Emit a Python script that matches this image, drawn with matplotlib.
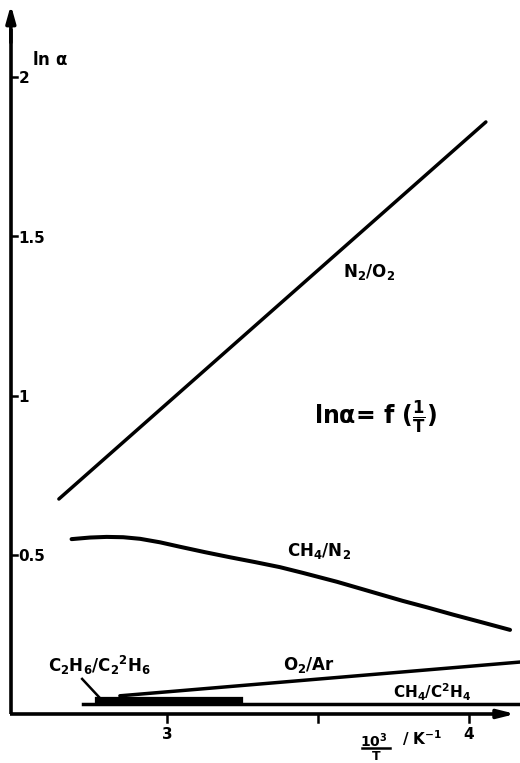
import numpy as np
import matplotlib
matplotlib.use("Agg")
import matplotlib.pyplot as plt

plt.rcParams['font.family'] = ['DejaVu Sans']
plt.rcParams['mathtext.default'] = 'regular'

# values (x = 10^3/T in K^-1, y = ln alpha)
n2o2_x = [2.642, 4.056]
n2o2_y = [0.675, 1.859]

ch4n2_x = [2.684, 2.745, 2.800, 2.855, 2.911, 2.977, 3.043, 3.126, 3.209, 3.291,
           3.374, 3.450, 3.563, 3.672, 3.781, 3.864, 3.947, 4.046, 4.136]
ch4n2_y = [0.549, 0.554, 0.556, 0.555, 0.550, 0.539, 0.525, 0.508, 0.492, 0.477,
           0.461, 0.443, 0.415, 0.385, 0.355, 0.334, 0.312, 0.287, 0.264]

o2ar_x = [2.844, 4.169]
o2ar_y = [0.057, 0.163]

c2h6_x = [2.772, 3.242]
c2h6_y = [0.044, 0.044]

ch4c2h4_x = [2.722, 4.169]
ch4c2h4_y = [0.031, 0.031]

yticks = [0.5, 1, 1.5, 2]
ytick_labels = ['0.5', '1', '1.5', '2']
xticks = [3, 3.5, 4]
xtick_labels = ['3', '', '4']

fig = plt.figure(figsize=(5.2, 7.63), dpi=100)
ax = fig.add_axes([0, 0, 1, 1])
ax.set_xlim(2.447, 4.169)
ax.set_ylim(-0.154, 2.242)
ax.axis('off')

x0 = 2.483  # position of the y axis
lw = 2.5
alw = 2.6

# axes with arrows
ax.plot([x0, x0], [0, 2.15], color='k', lw=alw, solid_capstyle='butt')
ax.annotate('', xy=(x0, 2.235), xytext=(x0, 2.1), annotation_clip=False,
            arrowprops=dict(arrowstyle='-|>,head_width=0.28,head_length=1.0', lw=alw, color='k'))
ax.plot([x0 - 0.004, 4.12], [0, 0], color='k', lw=alw, solid_capstyle='butt')
ax.annotate('', xy=(4.163, 0), xytext=(4.08, 0), annotation_clip=False,
            arrowprops=dict(arrowstyle='-|>,head_width=0.25,head_length=1.0', lw=alw, color='k'))

# ticks
for yt, lab in zip(yticks, ytick_labels):
    ax.plot([x0, x0 + 0.02], [yt, yt], color='k', lw=1.8)
    ax.text(2.509, yt - 0.006, lab, fontsize=11, fontweight='bold', va='center', ha='left')
for xt, lab in zip(xticks, xtick_labels):
    ax.plot([xt, xt], [0, -0.025], color='k', lw=1.8)
    if lab:
        ax.text(xt, -0.064, lab, fontsize=11, fontweight='bold', ha='center', va='center')

# curves
ax.plot(n2o2_x, n2o2_y, color='k', lw=lw, solid_capstyle='round')
ax.plot(ch4n2_x, ch4n2_y, color='k', lw=lw + 0.4, solid_capstyle='round',
        solid_joinstyle='round')
ax.plot(o2ar_x, o2ar_y, color='k', lw=lw, solid_capstyle='round')
ax.plot(ch4c2h4_x, ch4c2h4_y, color='k', lw=lw)
ax.plot(c2h6_x, c2h6_y, color='k', lw=4.5)
ax.plot([2.719, 2.775], [0.110, 0.053], color='k', lw=1.8)

# labels
kw = dict(fontsize=12, fontweight='bold', ha='center', va='center')
ax.text(2.613, 2.055, r'ln $\alpha$', fontsize=12, fontweight='bold', ha='center', va='center')
ax.text(3.669, 1.388, r'N$_2$/O$_2$', **kw)
ax.text(3.503, 0.512, r'CH$_4$/N$_2$', **kw)
ax.text(3.470, 0.154, r'O$_2$/Ar', **kw)
ax.text(2.778, 0.151, r'C$_2$H$_6$/C$_2$$^2$H$_6$', **kw)
ax.text(3.877, 0.069, r'CH$_4$/C$^2$H$_4$', fontsize=11, fontweight='bold',
        ha='center', va='center')
ax.text(3.69, 0.93, r'ln$\alpha$= f $(\frac{1}{T})$', fontsize=17, fontweight='bold',
        ha='center', va='center')

# x axis label drawn as a hand written fraction
ax.text(3.685, -0.083, r'10$^3$', fontsize=10, fontweight='bold', ha='center', va='center')
ax.plot([3.646, 3.738], [-0.107, -0.107], color='k', lw=1.8)
ax.text(3.692, -0.133, 'T', fontsize=9, fontweight='bold', ha='center', va='center')
ax.text(3.844, -0.075, r'/ K$^{-1}$', fontsize=11, fontweight='bold', ha='center', va='center')

fig.savefig('out.png', dpi=100)
